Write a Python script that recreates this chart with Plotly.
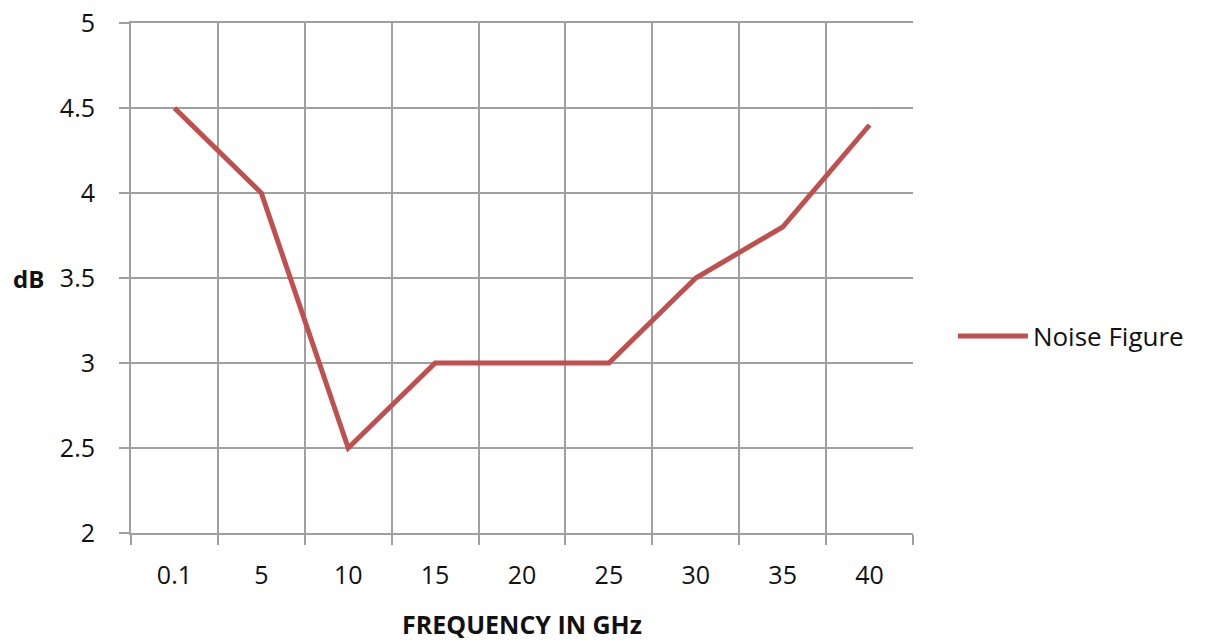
import plotly.graph_objects as go

categories = ["0.1", "5", "10", "15", "20", "25", "30", "35", "40"]
noise_figure = [4.5, 4.0, 2.5, 3.0, 3.0, 3.0, 3.5, 3.8, 4.4]
y_ticks = [2, 2.5, 3, 3.5, 4, 4.5, 5]

grid = "#A0A0A0"
font_family = "Open Sans, Liberation Sans, Arial, sans-serif"
fs = 25

fig = go.Figure()
fig.add_trace(go.Scatter(
    x=categories, y=noise_figure, mode="lines", name="Noise Figure",
    line=dict(color="#C0504D", width=5),
))

fig.update_layout(
    width=1206, height=640,
    margin=dict(l=123, r=301, t=15, b=115, autoexpand=False),
    paper_bgcolor="white", plot_bgcolor="white",
    font=dict(family=font_family, size=fs, color="#111"),
    showlegend=True,
    legend=dict(x=1.051, y=0.386, xanchor="left", yanchor="middle",
                font=dict(size=fs + 1, color="#111"), itemwidth=70),
    xaxis=dict(
        type="category", range=[-0.5, 8.5], automargin=False,
        tickson="boundaries", ticks="outside", ticklen=10, tickwidth=2, tickcolor=grid,
        showgrid=True, gridcolor=grid, gridwidth=2,
        showline=True, linecolor=grid, linewidth=2, mirror=True,
        ticklabelstandoff=19,
        title=dict(text="<b>FREQUENCY IN GHz</b>", font=dict(size=fs, color="#111"), standoff=26),
    ),
    yaxis=dict(
        range=[2, 5], tickvals=y_ticks, ticktext=[f"{v:g}" for v in y_ticks], automargin=False,
        ticklabeloverflow="allow",
        ticks="outside", ticklen=10, tickwidth=2, tickcolor=grid,
        showgrid=True, gridcolor=grid, gridwidth=2,
        showline=True, linecolor=grid, linewidth=2,
        ticklabelstandoff=19, zeroline=False,
    ),
    annotations=[dict(text="<b>dB</b>", x=(20 - 123) / 782, y=3.5, xref="paper", yref="y",
                      xanchor="center", showarrow=False, font=dict(size=24, color="#111"))],
)

fig.write_html("out.html")
